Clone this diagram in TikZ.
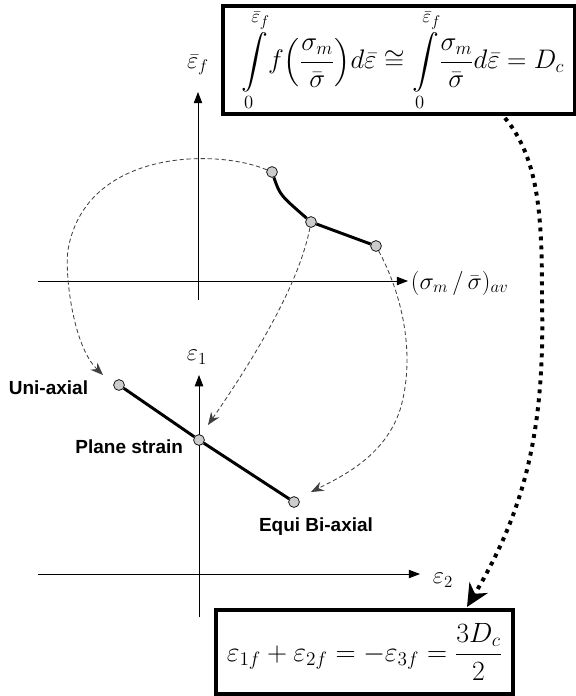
\documentclass[tikz,border=0pt]{standalone}
\usepackage{amsmath}
\usepackage{amssymb}
\usepackage{graphicx}
\usepackage{fontspec}
\setsansfont{Liberation Sans}
\usetikzlibrary{arrows.meta}

\begin{document}
\begin{tikzpicture}[x=0.025cm,y=-0.025cm,
  spot/.style={circle,draw,fill=black!20,line width=0.5pt,inner sep=0pt,minimum size=0.27cm},
  axis/.style={line width=0.6pt,-{Triangle[length=8pt,width=6pt]}},
  locus/.style={line width=2.1pt},
  link/.style={black!75,line width=0.6pt,dash pattern=on 3pt off 2pt,-{Stealth[length=9pt,width=7pt,inset=3pt]}},
  flow/.style={line width=2.8pt,dash pattern=on 2.8pt off 3.6pt,-{Stealth[length=16pt,width=15pt,inset=5pt]}},
  eqbox/.style={draw,line width=2.2pt,inner sep=0pt,font=\huge},
  lbl/.style={font=\sffamily\bfseries\fontsize{13.5}{16}\selectfont},
  ax/.style={font=\fontsize{17}{20}\selectfont}]
  \useasboundingbox (0,0) rectangle (576,696);
  % upper diagram: failure strain vs mean stress ratio
  \draw[axis] (198,300) -- (198,92);
  \draw[axis] (38,281) -- (408,281);
  \node[ax] (ef) at (198,65) {$\bar\varepsilon_f$};
  \node[ax,anchor=west] (sm) at (406,283) {$(\sigma_m\,/\,\bar\sigma)_{av}$};
  \node[spot] (p1) at (272,172) {};
  \node[spot] (p2) at (311,222) {};
  \node[spot] (p3) at (376,246) {};
  \draw[locus] (p1) .. controls (280,195) .. (p2) -- (p3);
  % lower diagram: strain space
  \draw[axis] (199,617) -- (199,375);
  \draw[axis] (38,574) -- (420,574);
  \node[ax] (e1) at (197,357) {$\varepsilon_1$};
  \node[ax,anchor=west] (e2) at (428,580) {$\varepsilon_2$};
  \node[spot] (ua) at (119,385) {};
  \node[spot] (ps) at (199,440) {};
  \node[spot] (eb) at (294,502) {};
  \draw[locus] (ua) -- (ps) -- (eb);
  \node[lbl,anchor=east] at (93,388) {Uni-axial};
  \node[lbl,anchor=east] at (188,447) {Plane strain};
  \node[lbl] at (316,527) {Equi Bi-axial};
  % mapping between the two
  \coordinate (ua-in) at (103,375);
  \coordinate (ps-in) at (208,425);
  \coordinate (eb-in) at (311,492);
  \draw[link] (p1) .. controls (215,148) and (85,150) .. (68,250)
    .. controls (64.6,270) and (72,345) .. (ua-in);
  \draw[link] (p2) .. controls (300,280) and (260,350) .. (ps-in);
  \draw[link] (p3) .. controls (405,300) and (415,360) .. (400,410)
    .. controls (385,455) and (345,475) .. (eb-in);
  % equations
  \node[eqbox,minimum width=8.775cm,minimum height=2.7cm] (topeq) at (398.5,60)
    {\hspace{6pt}\scalebox{0.92}{$\displaystyle\int\limits_0^{\bar\varepsilon_f}\!f\!\left(\frac{\sigma_m}{\bar\sigma}\right)\!d\bar\varepsilon
      \cong\int\limits_0^{\bar\varepsilon_f}\!\frac{\sigma_m}{\bar\sigma}d\bar\varepsilon=D_c$}};
  \node[eqbox,minimum width=7.425cm,minimum height=2.1cm] (boteq) at (364.5,652)
    {\scalebox{0.955}{$\displaystyle\varepsilon_{1f}+\varepsilon_{2f}=-\varepsilon_{3f}=\frac{3D_c}{2}$}};
  \coordinate (d0) at (505,118);
  \coordinate (d1) at (467,607);
  \draw[flow] (d0) .. controls (540,160) and (542,220) .. (542,300)
    .. controls (545,430) and (525,510) .. (d1);
\end{tikzpicture}
\end{document}
